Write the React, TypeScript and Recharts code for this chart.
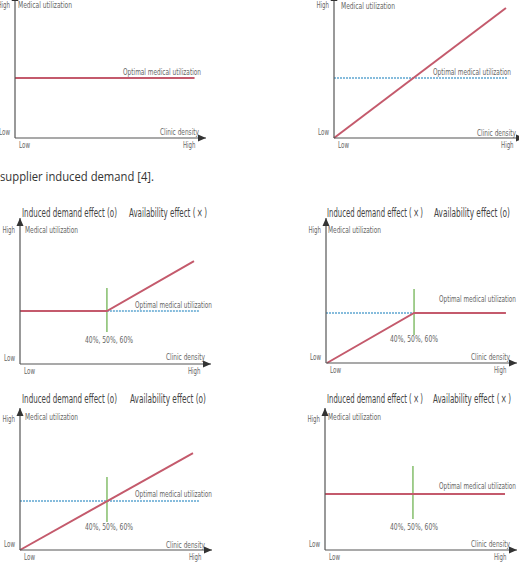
import React from 'react';
import { LineChart, Line, XAxis, YAxis, ReferenceDot } from 'recharts';

type Pt = { x: number; y: number };

// ---------- tick labels & texts ----------
const X_TICKS = [0, 0.945];
const X_TICK_LABELS = ['Low', 'High'];
const Y_TICKS = [0.04, 0.92];
const Y_TICK_LABELS = ['Low', 'High'];

const Y_TITLE = 'Medical utilization';
const X_TITLE = 'Clinic density';
const OPTIMAL_LABEL = 'Optimal medical utilization';
const THRESHOLD_LABEL = '40%, 50%, 60%';
const INDUCED_YES = 'Induced demand effect (o)';
const INDUCED_NO = 'Induced demand effect (\u2009×\u2009)';
const AVAIL_YES = 'Availability effect (o)';
const AVAIL_NO = 'Availability effect (\u2009×\u2009)';
const BODY_TEXT = 'supplier induced demand [4].';

// ---------- series (x: Low=0 .. axis end=1, y: 0 .. axis top=1) ----------
const p1Utilization: Pt[] = [{ x: 0, y: 0.414 }, { x: 0.94, y: 0.414 }];

const p2Utilization: Pt[] = [{ x: 0, y: 0 }, { x: 0.905, y: 0.897 }];
const p2Optimal: Pt[] = [{ x: 0, y: 0.414 }, { x: 0.916, y: 0.414 }];

const p3Utilization: Pt[] = [{ x: 0, y: 0.363 }, { x: 0.455, y: 0.363 }, { x: 0.911, y: 0.705 }];
const p3Optimal: Pt[] = [{ x: 0.455, y: 0.363 }, { x: 0.937, y: 0.363 }];
const p3Threshold: Pt[] = [{ x: 0.455, y: 0.219 }, { x: 0.455, y: 0.521 }];

const p4Utilization: Pt[] = [{ x: 0.005, y: 0 }, { x: 0.461, y: 0.345 }, { x: 0.942, y: 0.345 }];
const p4Optimal: Pt[] = [{ x: 0, y: 0.345 }, { x: 0.461, y: 0.345 }];
const p4Threshold: Pt[] = [{ x: 0.461, y: 0.193 }, { x: 0.461, y: 0.51 }];

const p5Utilization: Pt[] = [{ x: 0, y: 0 }, { x: 0.901, y: 0.683 }];
const p5Optimal: Pt[] = [{ x: 0, y: 0.345 }, { x: 0.932, y: 0.345 }];
const p5Threshold: Pt[] = [{ x: 0.453, y: 0.197 }, { x: 0.453, y: 0.514 }];

const p6Utilization: Pt[] = [{ x: 0, y: 0.394 }, { x: 0.9375, y: 0.394 }];
const p6Threshold: Pt[] = [{ x: 0.458, y: 0.218 }, { x: 0.458, y: 0.592 }];

// ---------- styles / layout ----------
const NARROW = "'Liberation Sans Narrow', 'DejaVu Sans Condensed', 'Liberation Sans', Arial, sans-serif";
const AXIS = '#555';
const RED = '#c45a6c';
const BLUE = '#86bcdc';
const GREEN = '#8cc274';
const LABEL = '#666';
const TITLE = '#444';

type PanelDef = {
  ox: number; top: number; axisY: number; tipX: number;
  utilization: Pt[]; optimal?: Pt[]; threshold?: Pt[];
};

const PANELS: PanelDef[] = [
  { ox: 15, top: -7, axisY: 138, tipX: 206, utilization: p1Utilization },
  { ox: 334, top: -7, axisY: 138, tipX: 524, utilization: p2Utilization, optimal: p2Optimal },
  { ox: 20, top: 218, axisY: 364, tipX: 211, utilization: p3Utilization, optimal: p3Optimal, threshold: p3Threshold },
  { ox: 326, top: 218, axisY: 363, tipX: 517, utilization: p4Utilization, optimal: p4Optimal, threshold: p4Threshold },
  { ox: 20, top: 408, axisY: 550, tipX: 212, utilization: p5Utilization, optimal: p5Optimal, threshold: p5Threshold },
  { ox: 325, top: 408, axisY: 550, tipX: 517, utilization: p6Utilization, threshold: p6Threshold },
];

type Note = { t: string; x: number; y: number; w?: number; a?: 'start' | 'middle' | 'end'; size?: number; fill?: string; font?: string };

const NOTES: Note[] = [
  // panel 1
  { t: Y_TITLE, x: 18, y: 5, w: 54 },
  { t: OPTIMAL_LABEL, x: 123, y: 72, w: 78 },
  { t: X_TITLE, x: 160, y: 132, w: 39 },
  // panel 2
  { t: Y_TITLE, x: 341, y: 6, w: 54 },
  { t: OPTIMAL_LABEL, x: 433, y: 72, w: 78 },
  { t: X_TITLE, x: 477, y: 133, w: 39 },
  // body text
  { t: BODY_TEXT, x: 0, y: 176, w: 154, size: 12.5, fill: '#333', font: "'Open Sans', 'Liberation Sans', sans-serif" },
  // panel 3
  { t: Y_TITLE, x: 25, y: 230, w: 53 },
  { t: OPTIMAL_LABEL, x: 135, y: 305, w: 77 },
  { t: THRESHOLD_LABEL, x: 109, y: 340, w: 48, a: 'middle' },
  { t: X_TITLE, x: 166, y: 357, w: 39 },
  // panel 4
  { t: Y_TITLE, x: 328, y: 230, w: 53 },
  { t: OPTIMAL_LABEL, x: 439, y: 299, w: 77 },
  { t: THRESHOLD_LABEL, x: 414, y: 339, w: 48, a: 'middle' },
  { t: X_TITLE, x: 471, y: 357, w: 39 },
  // panel 5
  { t: Y_TITLE, x: 25, y: 417, w: 53 },
  { t: OPTIMAL_LABEL, x: 135, y: 494, w: 77 },
  { t: THRESHOLD_LABEL, x: 109, y: 527, w: 48, a: 'middle' },
  { t: X_TITLE, x: 166, y: 545, w: 39 },
  // panel 6
  { t: Y_TITLE, x: 328, y: 417, w: 53 },
  { t: OPTIMAL_LABEL, x: 439, y: 486, w: 77 },
  { t: THRESHOLD_LABEL, x: 414, y: 527, w: 48, a: 'middle' },
  { t: X_TITLE, x: 471, y: 544, w: 39 },
];

type Title = { y: number; parts: { t: string; x: number; w: number }[] };
const TITLES: Title[] = [
  { y: 213, parts: [{ t: INDUCED_YES, x: 22, w: 95 }, { t: AVAIL_NO, x: 129, w: 78 }] },
  { y: 213, parts: [{ t: INDUCED_NO, x: 327, w: 96 }, { t: AVAIL_YES, x: 434, w: 76 }] },
  { y: 399, parts: [{ t: INDUCED_YES, x: 22, w: 95 }, { t: AVAIL_YES, x: 130, w: 76 }] },
  { y: 399, parts: [{ t: INDUCED_NO, x: 327, w: 96 }, { t: AVAIL_NO, x: 433, w: 78 }] },
];

const ML = 32, MR = 12, MT = 12, MB = 22;
const TICK_W: Record<string, number> = { Low: 11, High: 12.5 };

const XTick = (props: any) => {
  const { x, y, payload } = props;
  const idx = X_TICKS.indexOf(payload.value);
  const first = idx === 0;
  const label = X_TICK_LABELS[idx];
  return (
    <text x={first ? x + 4 : x} y={y + 9.5} textAnchor={first ? 'start' : 'end'} fontSize={8} fill={LABEL}
      fontFamily={NARROW} textLength={TICK_W[label]} lengthAdjust="spacingAndGlyphs">
      {label}
    </text>
  );
};

const YTick = (props: any) => {
  const { x, y, payload } = props;
  const idx = Y_TICKS.indexOf(payload.value);
  const label = Y_TICK_LABELS[idx];
  return (
    <text x={x - 5} y={y + 3} textAnchor="end" fontSize={8} fill={LABEL}
      fontFamily={NARROW} textLength={TICK_W[label]} lengthAdjust="spacingAndGlyphs">
      {label}
    </text>
  );
};

const RightArrow = (p: any) => (
  <path d={`M${p.cx - 8},${p.cy - 3.5} L${p.cx},${p.cy} L${p.cx - 8},${p.cy + 3.5} Z`} fill="#333" />
);
const UpArrow = (p: any) => (
  <path d={`M${p.cx - 3.5},${p.cy + 8} L${p.cx},${p.cy} L${p.cx + 3.5},${p.cy + 8} Z`} fill="#333" />
);

function Panel({ g }: { g: PanelDef }) {
  const W = g.tipX - g.ox;
  const H = g.axisY - g.top;
  return (
    <div style={{ position: 'absolute', left: g.ox - ML, top: g.top - MT }}>
      <LineChart width={ML + W + MR} height={MT + H + MB} margin={{ top: MT, right: MR, left: 0, bottom: 0 }}>
        <XAxis
          type="number" dataKey="x" domain={[0, 1]} ticks={X_TICKS} interval={0}
          tick={(p: any) => <XTick {...p} />} tickLine={false} tickSize={0} tickMargin={0}
          height={MB} axisLine={{ stroke: AXIS, strokeWidth: 1.2 }}
        />
        <YAxis
          type="number" dataKey="y" domain={[0, 1]} ticks={Y_TICKS} interval={0}
          tick={(p: any) => <YTick {...p} />} tickLine={false} tickSize={0} tickMargin={0}
          width={ML} axisLine={{ stroke: AXIS, strokeWidth: 1.2 }}
        />
        {g.threshold && (
          <Line data={g.threshold} dataKey="y" stroke={GREEN} strokeWidth={1.6} dot={false} activeDot={false} isAnimationActive={false} />
        )}
        {g.optimal && (
          <Line data={g.optimal} dataKey="y" stroke={BLUE} strokeWidth={2} strokeDasharray="2 1" dot={false} activeDot={false} isAnimationActive={false} />
        )}
        <Line data={g.utilization} dataKey="y" stroke={RED} strokeWidth={2} dot={false} activeDot={false} isAnimationActive={false} />
        <ReferenceDot x={1} y={0} r={0} ifOverflow="visible" shape={(p: any) => <RightArrow {...p} />} />
        <ReferenceDot x={0} y={1} r={0} ifOverflow="visible" shape={(p: any) => <UpArrow {...p} />} />
      </LineChart>
    </div>
  );
}

export default function App() {
  return (
    <div style={{ position: 'absolute', left: 0, top: 0, width: 519, height: 564, overflow: 'hidden', background: '#fff' }}>
      {PANELS.map((g, i) => (
        <Panel key={i} g={g} />
      ))}
      <svg width={519} height={564} style={{ position: 'absolute', left: 0, top: 0, pointerEvents: 'none' }}>
        {NOTES.map((n, i) => (
          <text
            key={i}
            x={n.x}
            y={n.y}
            dominantBaseline="central"
            textAnchor={n.a || 'start'}
            fontSize={n.size || 8}
            fill={n.fill || LABEL}
            fontFamily={n.font || NARROW}
            textLength={n.w}
            lengthAdjust="spacingAndGlyphs"
          >
            {n.t}
          </text>
        ))}
        {TITLES.map((tt, i) => (
          <text key={'t' + i} y={tt.y} dominantBaseline="central" fontSize={11.5} fill={TITLE} fontFamily={NARROW}>
            {tt.parts.map((p, j) => (
              <tspan key={j} x={p.x} textLength={p.w} lengthAdjust="spacingAndGlyphs">
                {p.t}
              </tspan>
            ))}
          </text>
        ))}
      </svg>
    </div>
  );
}
